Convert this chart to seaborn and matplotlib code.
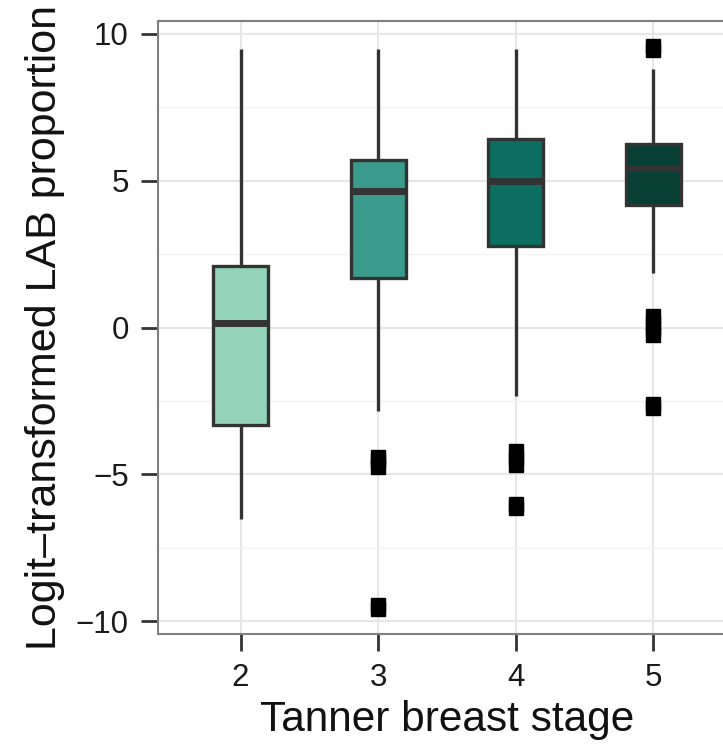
import numpy as np
import pandas as pd
import matplotlib
matplotlib.use("Agg")
import matplotlib.pyplot as plt
import seaborn as sns

# ---- data (five-number summaries + outliers) ----
stages = ["2", "3", "4", "5"]
whisker_low = [-6.53, -2.86, -2.35, 1.84]
q1 = [-3.33, 1.70, 2.79, 4.17]
median = [0.17, 4.66, 5.00, 5.44]
q3 = [2.11, 5.72, 6.43, 6.25]
whisker_high = [9.49, 9.49, 9.49, 8.81]
outliers = [
    [],
    [-4.40, -4.55, -4.75, -9.45, -9.60],
    [-4.20, -4.45, -4.70, -6.00, -6.15],
    [9.45, 9.60, 0.40, 0.15, -0.05, -0.25, -2.60, -2.75],
]
colors = ["#93d3b9", "#3a9b8c", "#0c6f61", "#073f35"]


def values_for(lo, a, m_, b, hi, outs):
    """Arrange the read values so the quartiles fall on a, m_ and b."""
    low = sorted([o for o in outs if o < a]) + [lo]
    high = [hi] + sorted([o for o in outs if o > b])
    m = max(len(low), len(high))
    return (low + [a] * (m - len(low) + 1) + [m_] * m + [b] * m
            + [b] * (m - len(high)) + high)


rows = []
for s, lo, a, md, b, hi, outs in zip(stages, whisker_low, q1, median, q3,
                                     whisker_high, outliers):
    for v in values_for(lo, a, md, b, hi, outs):
        rows.append({"stage": s, "value": v})
df = pd.DataFrame(rows)

sns.set_style("white")
plt.rcParams["font.family"] = ["Liberation Sans", "DejaVu Sans"]

fig = plt.figure(figsize=(7.23, 7.45), dpi=100)
ax = fig.add_axes([158 / 723, (745 - 634) / 745, (736 - 158) / 723, 613 / 745])

line_col = "#333333"
sns.boxplot(
    data=df, x="stage", y="value", hue="stage", order=stages,
    hue_order=stages, palette=colors, saturation=1, legend=False, ax=ax,
    width=0.4, linewidth=2.4, linecolor=line_col, showcaps=False,
    fliersize=10.5,
    flierprops=dict(marker="s", markerfacecolor="black",
                    markeredgecolor="black"),
    medianprops=dict(color=line_col, linewidth=5),
    whiskerprops=dict(color=line_col, linewidth=2.4),
    boxprops=dict(edgecolor=line_col, linewidth=2.4),
)

ax.set_xlim(-0.6, 3.6)
ax.set_ylim(-10.44, 10.44)
ax.set_yticks([-10, -5, 0, 5, 10])
ax.set_yticks([-7.5, -2.5, 2.5, 7.5], minor=True)

ax.set_axisbelow(True)
ax.grid(which="major", axis="both", color="#e6e6e6", linewidth=1.4)
ax.grid(which="minor", axis="y", color="#f3f3f3", linewidth=1.0)

for sp in ax.spines.values():
    sp.set_color("#7f7f7f")
    sp.set_linewidth(1.5)
    sp.set_visible(True)

ax.tick_params(axis="both", which="major", direction="out", length=12,
               width=2, color="#333333", pad=9, labelsize=22.5,
               labelcolor="#1a1a1a", left=True, bottom=True)
ax.tick_params(axis="y", which="minor", length=0)

ax.set_xlabel("Tanner breast stage", fontsize=30.5, color="#111111", labelpad=5)
ax.set_ylabel("Logit\u2013transformed LAB proportion", fontsize=31,
              color="#111111", labelpad=8)

fig.savefig("out.png", dpi=100)
